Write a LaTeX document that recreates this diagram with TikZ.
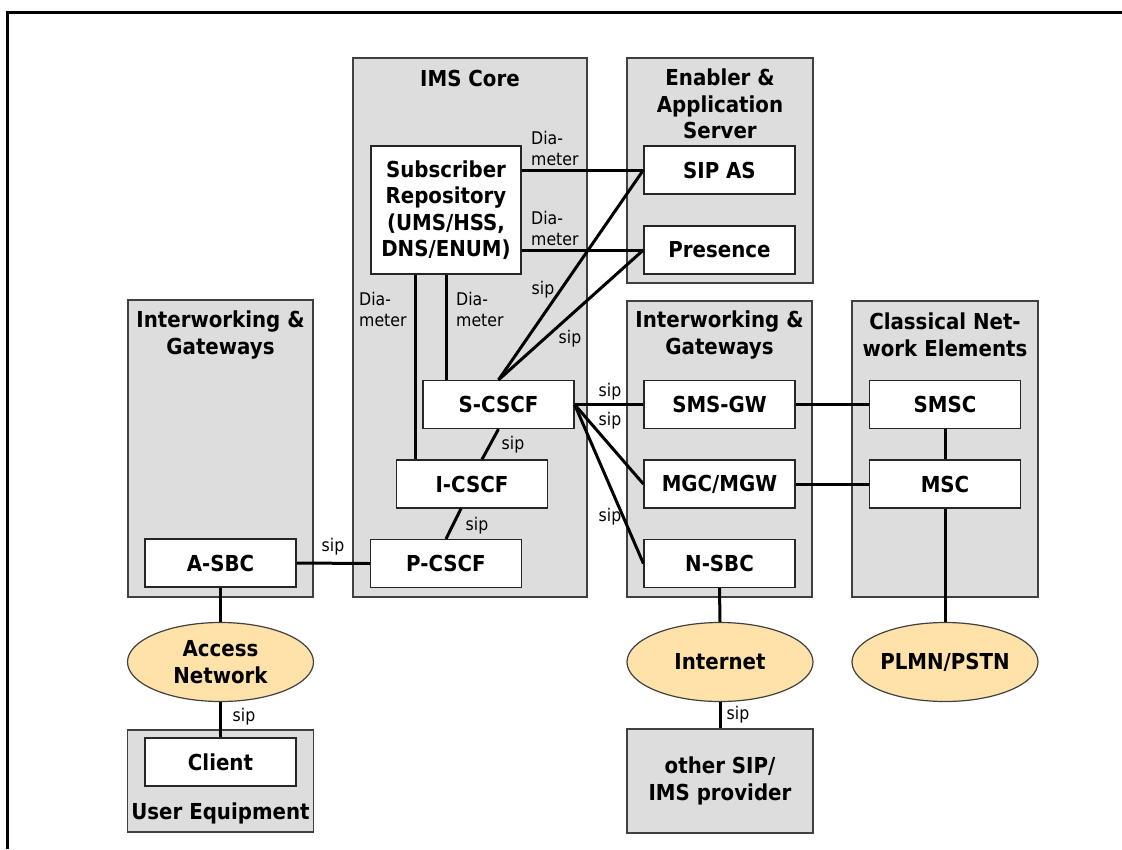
\documentclass[tikz,border=0pt]{standalone}
\usepackage{fontspec}
\setmainfont{DejaVu Sans Condensed}
\usetikzlibrary{shapes.geometric, positioning}
\definecolor{netfill}{HTML}{FFE2AA}
\definecolor{areafill}{HTML}{DDDDDD}
\tikzstyle{area} = [rectangle, draw=black!75, fill=areafill, line width=1.2pt, inner sep=0pt]
\tikzstyle{areatitle} = [align=center, font=\bfseries\fontsize{22}{26.5}\selectfont]
\tikzstyle{elem} = [rectangle, minimum width=151pt, minimum height=48pt, text centered, align=center, draw=black!85, fill=white, line width=1.2pt, font=\bfseries\fontsize{22}{26.5}\selectfont]
\tikzstyle{net} = [ellipse, minimum width=186pt, minimum height=79pt, inner sep=0pt, align=center, draw=black!75, fill=netfill, line width=1.2pt, font=\bfseries\fontsize{22}{26.5}\selectfont]
\tikzstyle{proto} = [align=left, inner sep=1pt, font=\fontsize{17.5}{21}\selectfont]
\tikzstyle{link} = [line width=3pt]

\begin{document}
\begin{tikzpicture}[x=1pt, y=-1pt, node distance=79.5pt]
\useasboundingbox (0,0) rectangle (1122,849);
\draw [line width=3pt] (7,849) -- (7,12) -- (1122,12);

% domains
\node (iwleft) [area, minimum width=185pt, minimum height=297pt] at (220.5,448.5) {};
\node (ims) [area, minimum width=234pt, minimum height=539pt] at (470,327.5) {};
\node (enabler) [area, minimum width=186pt, minimum height=225pt] at (720,170.5) {};
\node (iwright) [area, minimum width=185pt, minimum height=296pt] at (719.5,449) {};
\node (classic) [area, minimum width=186pt, minimum height=296pt] at (945,449) {};
\node (ue) [area, minimum width=186pt, minimum height=102pt] at (220.5,781) {};
\node (other) [area, minimum width=186pt, minimum height=104pt] at (720,781) {};

\node (iwlefttitle) [areatitle] at (220.5,335) {Interworking \&\\Gateways};
\node (imstitle) [areatitle] at (470,78) {IMS Core};
\node (enablertitle) [areatitle] at (720,104) {Enabler \&\\Application\\Server};
\node (iwrighttitle) [areatitle] at (719.5,335) {Interworking \&\\Gateways};
\node (classictitle) [areatitle] at (945,335) {Classical Net-\\work Elements};
\node (uetitle) [areatitle] at (220.5,813) {User Equipment};
\node (othertitle) [areatitle] at (720,781) {other SIP/\\IMS provider};

% elements
\node (subrep) [elem, minimum width=150pt, minimum height=128pt] at (446,210) {Subscriber\\Repository\\(UMS/HSS,\\DNS/ENUM)};
\node (scscf) [elem] at (498.5,404.5) {S-CSCF};
\node (icscf) [elem, below of=scscf, xshift=-26.5pt] {I-CSCF};
\node (pcscf) [elem, below of=icscf, xshift=-26pt] {P-CSCF};
\node (sipas) [elem] at (719.5,170) {SIP AS};
\node (presence) [elem, below of=sipas, yshift=-0.5pt] {Presence};
\node (smsgw) [elem] at (719.5,404.5) {SMS-GW};
\node (mgc) [elem, below of=smsgw] {MGC/MGW};
\node (nsbc) [elem, below of=mgc] {N-SBC};
\node (smsc) [elem] at (945,404.5) {SMSC};
\node (msc) [elem, below of=smsc] {MSC};
\node (asbc) [elem] at (220.5,563) {A-SBC};
\node (client) [elem] at (220.5,762) {Client};

\node (access) [net] at (220.5,662) {Access\\Network};
\node (internet) [net] at (720,662) {Internet};
\node (pstn) [net] at (945,662) {PLMN/PSTN};

% connections
\coordinate (dmleft) at ([xshift=-31pt]subrep.south);
\draw [link] (subrep.east |- sipas) -- (sipas.west);
\draw [link] (subrep.east |- presence) -- (presence.west);
\draw [link] (dmleft) -- (dmleft |- icscf.north);
\draw [link] (subrep.south) -- (subrep.south |- scscf.north);
\draw [link] (scscf.north) -- (sipas.west);
\draw [link] (scscf.north) -- (presence.west);
\draw [link] (scscf.south) -- ([xshift=10pt]icscf.north);
\draw [link] ([xshift=-11pt]icscf.south) -- (pcscf.north);
\draw [link] (asbc.east) -- (pcscf.west);
\draw [link] (scscf.east) -- (smsgw.west);
\draw [link] (scscf.east) -- (mgc.west);
\draw [link] (scscf.east) -- (nsbc.west);
\draw [link] (smsgw.east) -- (smsc.west);
\draw [link] (mgc.east) -- (msc.west);
\draw [link] (smsc.south) -- (msc.north);
\draw [link] (msc.south) -- (pstn.north);
\draw [link] (nsbc.south) -- (internet.north);
\draw [link] (internet.south) -- (other.north);
\draw [link] (asbc.south) -- (access.north);
\draw [link] (access.south) -- (client.north);

% protocol labels
\node (dm1) [proto, anchor=west] at (530,148.5) {Dia-\\meter};
\node (dm2) [proto, anchor=west] at (530,228.5) {Dia-\\meter};
\node (dm3) [proto, anchor=west] at (358,309) {Dia-\\meter};
\node (dm4) [proto, anchor=west] at (455,309) {Dia-\\meter};
\node (sip1) [proto] at (543,290) {sip};
\node (sip2) [proto] at (570,339) {sip};
\node (sip3) [proto] at (513,445) {sip};
\node (sip4) [proto] at (477,526) {sip};
\node (sip5) [proto] at (610,392) {sip};
\node (sip6) [proto] at (610,421) {sip};
\node (sip7) [proto] at (610,517) {sip};
\node (sip8) [proto] at (333,547) {sip};
\node (sip9) [proto] at (244,717) {sip};
\node (sip10) [proto] at (738,715) {sip};
\end{tikzpicture}
\end{document}
